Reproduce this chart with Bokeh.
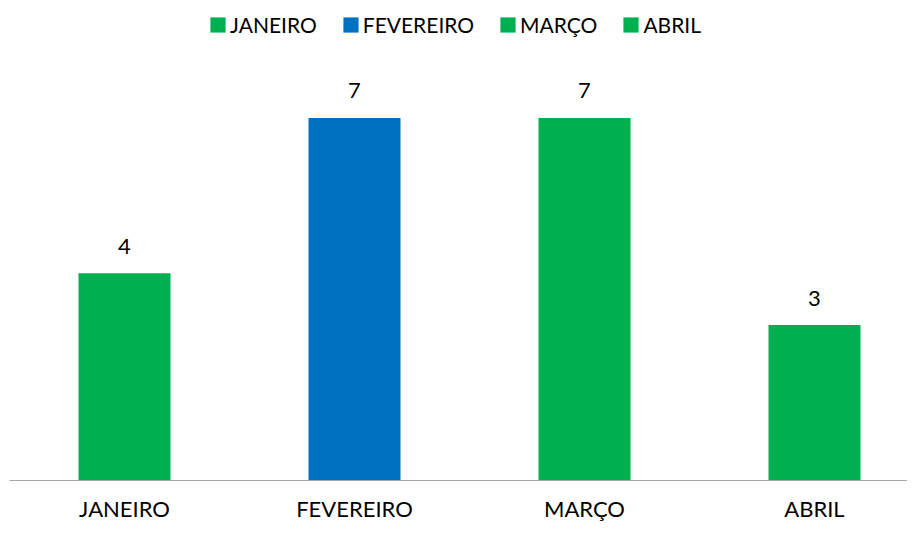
from bokeh.plotting import figure
from bokeh.models import ColumnDataSource, Range1d, FixedTicker, Legend, LegendItem
from bokeh.core.properties import value
from bokeh.embed import file_html
from bokeh.resources import INLINE

months = ["JANEIRO", "FEVEREIRO", "MARÇO", "ABRIL"]
counts = [4, 7, 7, 3]
colors = ["#00B050", "#0070C0", "#00B050", "#00B050"]

FONT = "Lato"
FS = "22px"

xs = [i + 0.5 for i in range(len(months))]
src = ColumnDataSource(dict(x=xs, top=counts, month=months, color=colors,
                            label=[str(c) for c in counts]))

p = figure(width=907, height=524, output_backend="svg", toolbar_location=None,
           x_range=Range1d(0, 898 / 230), y_range=Range1d(0, 480 / 51.8),
           min_border_left=9, min_border_right=0, min_border_top=0, min_border_bottom=44)
p.outline_line_color = None
p.grid.visible = False
p.yaxis.visible = False

r = p.vbar(x="x", top="top", width=0.4, fill_color="color", line_color=None, source=src)

p.text(x="x", y="top", text="label", source=src, text_align="center",
       text_baseline="alphabetic", y_offset=-27, text_font=value(FONT),
       text_font_size=FS, text_color="#000000")

ax = p.xaxis[0]
ax.ticker = FixedTicker(ticks=xs)
ax.major_label_overrides = {x: m for x, m in zip(xs, months)}
ax.major_tick_line_color = None
ax.minor_tick_line_color = None
ax.major_tick_out = 0
ax.major_tick_in = 0
ax.minor_tick_out = 0
ax.minor_tick_in = 0
ax.axis_line_color = "#a6a6a6"
ax.axis_line_width = 1
ax.major_label_standoff = 14
ax.major_label_text_font = FONT
ax.major_label_text_font_size = FS
ax.major_label_text_color = "#000000"

items = [LegendItem(label=m, renderers=[r], index=i) for i, m in enumerate(months)]
legend = Legend(items=items, orientation="horizontal", location=(199, 443),
                padding=0, margin=0, spacing=24, label_standoff=3,
                glyph_width=19, glyph_height=19, border_line_color=None,
                background_fill_alpha=0, label_text_font=FONT,
                label_text_font_size="21px", label_text_color="#000000")
p.add_layout(legend, "center")

open("out.html", "w").write(file_html(p, INLINE))
